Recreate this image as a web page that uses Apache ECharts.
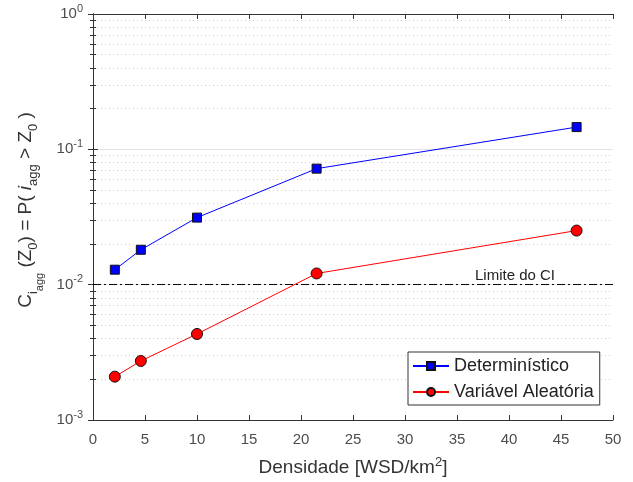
<!DOCTYPE html>
<html>
<head>
<meta charset="utf-8">
<script src="https://cdn.jsdelivr.net/npm/echarts@6/dist/echarts.min.js"></script>
<style>
  html, body { margin: 0; padding: 0; background: #fff; }
  #chart { width: 633px; height: 482px; }
</style>
</head>
<body>
<div id="chart"></div>
<script>
// densidade [WSD/km2]
const densidade = [2.1, 4.6, 10, 21.5, 46.5];
// probabilidades
const deterministico = [0.0129, 0.0181, 0.0313, 0.072, 0.146];
const aleatoria = [0.00209, 0.00273, 0.00432, 0.0121, 0.0251];
const limiteCI = 0.01;

const font = 'Liberation Sans, Arial, sans-serif';
const axisColor = '#333';
const labelColor = '#4d4d4d';

const chart = echarts.init(document.getElementById('chart'));

const pairs = (ys) => densidade.map((x, i) => [x, ys[i]]);

const expLabel = (v) => {
  const e = Math.round(Math.log10(v));
  return '{b|10}{s|' + e + '}';
};

const logAxisBase = {
  type: 'log',
  logBase: 10,
  min: 0.001,
  max: 1,
  axisLine: { show: true, lineStyle: { color: axisColor, width: 1 } },
  axisTick: { show: true, inside: true, length: 5, lineStyle: { color: axisColor } },
  minorTick: { show: true, splitNumber: 9, length: 3, lineStyle: { color: axisColor } },
};

const option = {
  animation: false,
  backgroundColor: '#fff',
  textStyle: { fontFamily: font },
  grid: { left: 93, right: 20, top: 14, bottom: 62 },
  legend: {
    orient: 'vertical',
    left: 408,
    top: 352,
    backgroundColor: '#fff',
    borderColor: axisColor,
    borderWidth: 1,
    borderRadius: 0,
    padding: [5, 6, 4, 4],
    itemGap: 8,
    itemWidth: 36,
    itemHeight: 10,
    textStyle: { fontSize: 18, color: '#222', fontFamily: font },
    data: ['Determinístico', 'Variável Aleatória'],
  },
  xAxis: [
    {
      type: 'value',
      min: 0,
      max: 50,
      interval: 5,
      name: 'Densidade [WSD/km{sup|2}]',
      nameLocation: 'middle',
      nameGap: 36,
      nameTextStyle: {
        fontSize: 19, color: '#333', fontFamily: font,
        rich: { sup: { fontSize: 13, color: '#333', padding: [0, 0, 10, 0] } },
      },
      axisLine: { show: true, lineStyle: { color: axisColor } },
      axisTick: { show: true, inside: true, length: 5, lineStyle: { color: axisColor } },
      axisLabel: { fontSize: 15, color: labelColor, margin: 12 },
      splitLine: { show: false },
    },
    {
      type: 'value',
      position: 'top',
      min: 0,
      max: 50,
      interval: 5,
      axisLine: { show: true, lineStyle: { color: axisColor } },
      axisTick: { show: true, inside: true, length: 5, lineStyle: { color: axisColor } },
      axisLabel: { show: false },
      splitLine: { show: false },
    },
  ],
  yAxis: [
    Object.assign({}, logAxisBase, {
      position: 'left',
      name: '{n|C}{s1|i}{s2|agg}{n| (Z}{s1|0}{n|) = P( }{it|i}{s1|agg}{n| > Z}{s1|0}{n| )}',
      nameLocation: 'middle',
      nameRotate: 90,
      nameGap: 39,
      nameTextStyle: {
        color: '#333',
        fontFamily: font,
        padding: [0, 0, 0, 14],
        rich: {
          n: { fontSize: 19, color: '#333', lineHeight: 38 },
          it: { fontSize: 19, color: '#333', fontStyle: 'italic', lineHeight: 38 },
          s1: { fontSize: 13, color: '#333', padding: [14, 0, 0, 0] },
          s2: { fontSize: 11, color: '#333', padding: [28, 0, 0, 0] },
        },
      },
      axisLabel: {
        margin: 10,
        formatter: expLabel,
        rich: {
          b: { fontSize: 15, color: labelColor, fontFamily: font },
          s: { fontSize: 11, color: labelColor, fontFamily: font, padding: [0, 0, 11, 0] },
        },
      },
      splitLine: { show: true, lineStyle: { color: '#e3e3e3', width: 1 } },
      minorSplitLine: { show: true, lineStyle: { color: '#cfcfcf', width: 1, type: [1, 3] } },
    }),
    Object.assign({}, logAxisBase, {
      position: 'right',
      axisLabel: { show: false },
      splitLine: { show: false },
    }),
  ],
  series: [
    {
      name: 'Determinístico',
      type: 'line',
      data: pairs(deterministico),
      symbol: 'rect',
      symbolSize: 9,
      lineStyle: { color: '#0000ff', width: 1 },
      itemStyle: { color: '#0000ff', borderColor: '#111', borderWidth: 1 },
      z: 5,
      markLine: {
        silent: true,
        symbol: 'none',
        lineStyle: { color: '#000', width: 1, type: [8, 3, 2, 3] },
        label: {
          show: true,
          position: 'insideEndTop',
          formatter: 'Limite do CI',
          fontSize: 15,
          color: '#222',
          fontFamily: font,
          distance: 1,
          padding: [0, 57, 0, 0],
        },
        data: [{ yAxis: limiteCI }],
      },
    },
    {
      name: 'Variável Aleatória',
      type: 'line',
      data: pairs(aleatoria),
      symbol: 'circle',
      symbolSize: 11,
      lineStyle: { color: '#ff0000', width: 1 },
      itemStyle: { color: '#ff0000', borderColor: '#111', borderWidth: 1 },
      z: 5,
    },
  ],
};

chart.setOption(option);
</script>
</body>
</html>
